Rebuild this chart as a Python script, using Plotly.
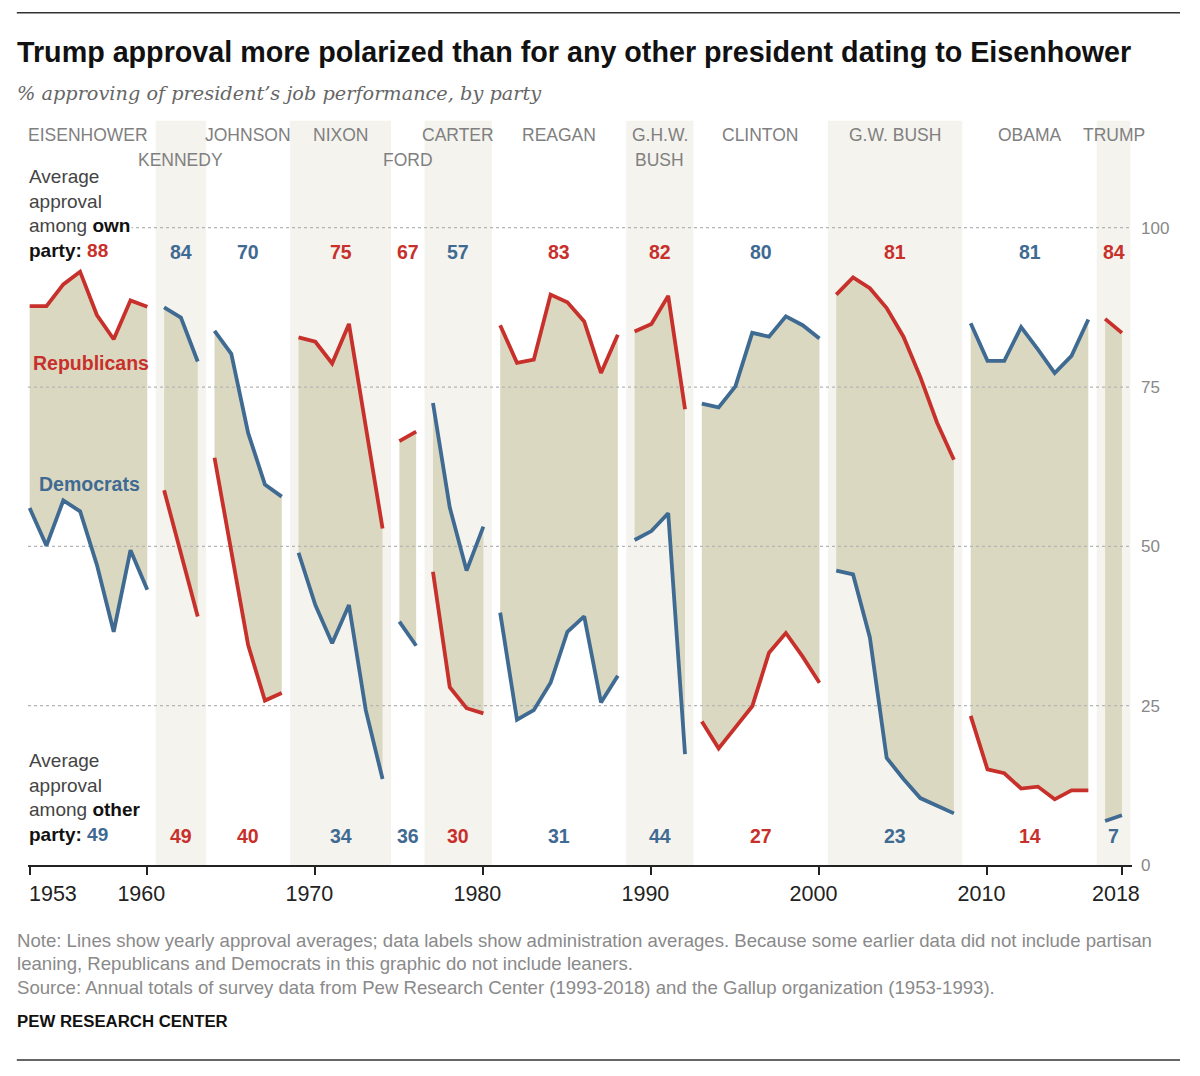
import plotly.graph_objects as go

# ---------------- data ----------------
presidents = ["EISENHOWER", "KENNEDY", "JOHNSON", "NIXON", "FORD", "CARTER",
              "REAGAN", "G.H.W.<br>BUSH", "CLINTON", "G.W. BUSH", "OBAMA", "TRUMP"]
first_year = [1953, 1961, 1964, 1969, 1975, 1977, 1981, 1989, 1993, 2001, 2009, 2017]
president_party = ["R", "D", "D", "R", "R", "D", "R", "R", "D", "R", "D", "R"]

rep_approval = [
    [87.7, 87.7, 91.1, 93.1, 86.3, 82.5, 88.6, 87.6],
    [58.8, 48.9, 39.0],
    [63.9, 49.2, 34.5, 25.8, 27.0],
    [82.8, 82.1, 78.7, 84.9, 68.8, 52.8],
    [66.5, 68.0],
    [46.0, 27.9, 24.6, 23.8],
    [84.7, 78.8, 79.3, 89.5, 88.3, 85.3, 77.2, 83.2],
    [83.7, 84.9, 89.3, 71.5],
    [22.5, 18.3, 21.6, 24.9, 33.3, 36.4, 32.7, 28.6],
    [89.5, 92.2, 90.5, 87.4, 82.9, 76.6, 69.4, 63.6],
    [23.4, 15.0, 14.4, 12.0, 12.3, 10.3, 11.7, 11.7],
    [85.7, 83.5],
]
dem_approval = [
    [56.0, 50.1, 57.2, 55.5, 47.1, 36.6, 49.4, 43.2],
    [87.5, 85.9, 79.0],
    [83.8, 80.2, 67.8, 59.7, 57.8],
    [49.0, 40.8, 34.8, 40.8, 24.3, 13.5],
    [38.2, 34.4],
    [72.5, 56.1, 46.2, 53.1],
    [39.6, 22.8, 24.3, 28.6, 36.6, 39.0, 25.5, 29.7],
    [51.0, 52.4, 55.2, 17.4],
    [72.4, 71.8, 75.1, 83.5, 82.9, 86.1, 84.7, 82.6],
    [46.2, 45.6, 35.7, 16.8, 13.5, 10.5, 9.3, 8.1],
    [85.0, 79.1, 79.1, 84.4, 80.9, 77.2, 79.9, 85.6],
    [6.9, 7.8],
]
own_party_avg = [88, 84, 70, 75, 67, 57, 83, 82, 80, 81, 81, 84]
other_party_avg = [49, 49, 40, 34, 36, 30, 31, 44, 27, 23, 14, 7]

x_ticks = [1953, 1960, 1970, 1980, 1990, 2000, 2010, 2018]
y_ticks = [0, 25, 50, 75, 100]

# ---------------- styling ----------------
RED = "#c8302b"
BLUE = "#3f6a92"
FILL = "#dbd8c1"
BAND = "#f4f3ee"
GREY = "#808080"
SANS = "Liberation Sans, Arial, sans-serif"
SERIF = "DejaVu Serif, Georgia, serif"
second_row = {"KENNEDY", "FORD"}

W, H = 1200, 1076
OFF = 8                      # page body margin
# plot area in screenshot pixels
L, R_px = 28.2, 1132.0
T, B = 120.3, 865.0
X0, X1 = 1952.9, 2018.6
Y0, Y1 = 0, 116.9


def px(X):
    return (X - L) / (R_px - L)


def py(Y):
    return (B - Y) / (B - T)


def party_color(p):
    return RED if p == "R" else BLUE


fig = go.Figure()
shapes = []
annotations = []

# shaded bands for alternate administrations
for i, fy in enumerate(first_year):
    n = len(rep_approval[i])
    if i % 2 == 1:
        shapes.append(dict(type="rect", xref="x", yref="paper",
                           x0=fy - 0.5, x1=fy + n - 1 + 0.5, y0=0, y1=py(121),
                           fillcolor=BAND, line=dict(width=0), layer="below"))

# gap fills
for i, fy in enumerate(first_year):
    yrs = list(range(fy, fy + len(rep_approval[i])))
    fig.add_trace(go.Scatter(
        x=yrs + yrs[::-1], y=rep_approval[i] + dem_approval[i][::-1],
        fill="toself", fillcolor=FILL, line=dict(width=0), mode="lines",
        hoverinfo="skip", showlegend=False))

# dotted gridlines (above fills, below lines)
for v in y_ticks[1:]:
    fig.add_trace(go.Scatter(x=[X0, X1], y=[v, v], mode="lines",
                             line=dict(color="#b5b5b5", width=1.3, dash="dot"),
                             hoverinfo="skip", showlegend=False))

# party lines
for i, fy in enumerate(first_year):
    yrs = list(range(fy, fy + len(rep_approval[i])))
    fig.add_trace(go.Scatter(x=yrs, y=rep_approval[i], mode="lines",
                             line=dict(color=RED, width=3.8), showlegend=False,
                             name="Republicans"))
    fig.add_trace(go.Scatter(x=yrs, y=dem_approval[i], mode="lines",
                             line=dict(color=BLUE, width=3.8), showlegend=False,
                             name="Democrats"))

# president names and averages
for i, fy in enumerate(first_year):
    n = len(rep_approval[i])
    mid = fy + (n - 1) / 2
    parts = presidents[i].split("<br>")
    for k, part in enumerate(parts):
        row_y = 160 if (part in second_row or k == 1) else 135
        annotations.append(dict(x=mid, xref="x", y=py(row_y), yref="paper",
                                text=part, showarrow=False, xanchor="center",
                                yanchor="middle",
                                font=dict(family=SANS, size=17.5, color=GREY)))
    if i == 0:
        continue
    own_c = party_color(president_party[i])
    oth_c = BLUE if own_c == RED else RED
    annotations.append(dict(x=mid, xref="x", y=py(252), yref="paper",
                            xanchor="center", yanchor="middle",
                            text=f"<b>{own_party_avg[i]}</b>", showarrow=False,
                            font=dict(family=SANS, size=19.5, color=own_c)))
    annotations.append(dict(x=mid, xref="x", y=py(836), yref="paper",
                            xanchor="center", yanchor="middle",
                            text=f"<b>{other_party_avg[i]}</b>", showarrow=False,
                            font=dict(family=SANS, size=19.5, color=oth_c)))

# side explanations
annotations.append(dict(
    x=px(27), y=py(214), xref="paper", yref="paper", xanchor="left", yanchor="middle",
    align="left", showarrow=False, bgcolor="white",
    text=("Average<br>approval<br>among <b><span style='color:#111'>own</span></b><br>"
          f"<b><span style='color:#111'>party:</span></b> "
          f"<b><span style='color:{party_color(president_party[0])}'>{own_party_avg[0]}</span></b>"),
    font=dict(family=SANS, size=19, color="#444")))
annotations.append(dict(
    x=px(27), y=py(798), xref="paper", yref="paper", xanchor="left", yanchor="middle",
    align="left", showarrow=False,
    text=("Average<br>approval<br>among <b><span style='color:#111'>other</span></b><br>"
          f"<b><span style='color:#111'>party:</span></b> "
          f"<b><span style='color:{BLUE}'>{other_party_avg[0]}</span></b>"),
    font=dict(family=SANS, size=19, color="#444")))

annotations.append(dict(x=px(31), y=py(363), xref="paper", yref="paper",
                        xanchor="left", yanchor="middle", showarrow=False,
                        text="<b>Republicans</b>", font=dict(family=SANS, size=19.5, color=RED)))
annotations.append(dict(x=px(37), y=py(484), xref="paper", yref="paper",
                        xanchor="left", yanchor="middle", showarrow=False,
                        text="<b>Democrats</b>", font=dict(family=SANS, size=19.5, color=BLUE)))

# first-year tick label sits to the right of its tick
annotations.append(dict(x=x_ticks[0], xref="x", y=py(894), yref="paper",
                        xanchor="left", yanchor="middle", xshift=-3, showarrow=False,
                        text=str(x_ticks[0]),
                        font=dict(family=SANS, size=21.5, color="#222")))

# title / subtitle / notes
annotations.append(dict(x=px(15), y=py(52), xref="paper", yref="paper",
                        xanchor="left", yanchor="middle", showarrow=False,
                        text="<b>Trump approval more polarized than for any other president dating to Eisenhower</b>",
                        font=dict(family=SANS, size=28.7, color="#111")))
annotations.append(dict(x=px(15), y=py(94), xref="paper", yref="paper",
                        xanchor="left", yanchor="middle", showarrow=False,
                        text="<i>% approving of president\u2019s job performance, by party</i>",
                        font=dict(family=SERIF, size=19.3, color="#666")))
notes = [
    "Note: Lines show yearly approval averages; data labels show administration averages. Because some earlier data did not include partisan",
    "leaning, Republicans and Democrats in this graphic do not include leaners.",
    "Source: Annual totals of survey data from Pew Research Center (1993-2018) and the Gallup organization (1953-1993).",
]
for k, line in enumerate(notes):
    annotations.append(dict(x=px(15), y=py(940 + 23.5 * k), xref="paper", yref="paper",
                            xanchor="left", yanchor="middle", showarrow=False,
                            text=line, font=dict(family=SANS, size=18.6, color="#8a8a8a")))
annotations.append(dict(x=px(15), y=py(1021), xref="paper", yref="paper",
                        xanchor="left", yanchor="middle", showarrow=False,
                        text="<b>PEW RESEARCH CENTER</b>",
                        font=dict(family=SANS, size=16.8, color="#111")))

for yy in (13, 1060):
    shapes.append(dict(type="line", xref="paper", yref="paper",
                       x0=px(17), x1=px(1180), y0=py(yy), y1=py(yy),
                       line=dict(color="#333", width=1.5)))

tick_text = ["" if t == x_ticks[0] else str(t) for t in x_ticks]

fig.update_layout(
    width=W, height=H,
    margin=dict(l=L - OFF, r=W - (R_px - OFF), t=T - OFF, b=H - (B - OFF), pad=0),
    paper_bgcolor="white", plot_bgcolor="rgba(0,0,0,0)",
    shapes=shapes, annotations=annotations, showlegend=False,
    xaxis=dict(range=[X0, X1], tickvals=x_ticks, ticktext=tick_text,
               automargin=False, ticklabelshift=-6, ticklabeloverflow="allow",
               showgrid=False, zeroline=False, showline=True, linecolor="#222",
               linewidth=1.5, ticks="outside", ticklen=8, tickwidth=1.5,
               tickcolor="#222", tickfont=dict(family=SANS, size=21.5, color="#222")),
    yaxis=dict(range=[Y0, Y1], tickvals=y_ticks, side="right", showgrid=False,
               automargin=False,
               zeroline=False, showline=False, ticks="", ticklabelstandoff=8,
               tickfont=dict(family=SANS, size=17, color="#888")),
)

fig.write_html("out.html")
